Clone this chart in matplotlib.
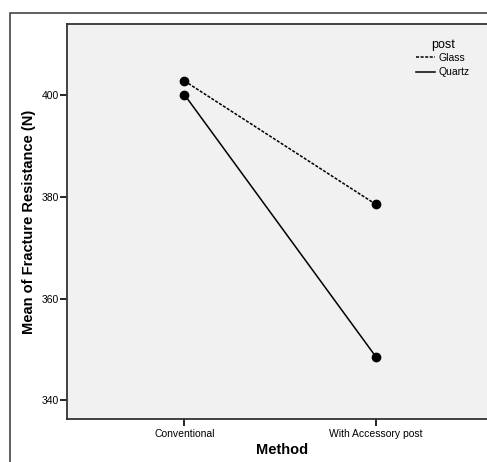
import matplotlib
matplotlib.use('Agg')
import matplotlib.pyplot as plt
from matplotlib.patches import Rectangle
from matplotlib.lines import Line2D

plt.rcParams['font.family'] = ['Liberation Sans', 'DejaVu Sans']

methods = ['Conventional', 'With Accessory post']
glass = [402.8, 378.5]
quartz = [400.1, 348.5]
yticks = [340, 360, 380, 400]

W, H = 487, 462
fig = plt.figure(figsize=(W / 100, H / 100), dpi=100)

# outer frame (cut off at right and bottom like the original)
fig.patches.append(Rectangle((10 / W, -0.1), 1.2, 1 - 13 / H + 0.1,
                             transform=fig.transFigure, fill=False,
                             edgecolor='#444444', linewidth=1.2))

ax = fig.add_axes([67 / W, 1 - 419 / H, (W - 67) / W + 0.02, (419 - 24) / H])
ax.set_facecolor('#f1f1f1')

x = list(range(len(methods)))
ax.plot(x, glass, color='black', linestyle=(0, (2, 1)), linewidth=1.1,
        marker='o', markersize=6)
ax.plot(x, quartz, color='black', linestyle='-', linewidth=1.1,
        marker='o', markersize=6)

ax.set_xlim(-0.613, 1.63)
ax.set_ylim(336.3, 414.0)
ax.set_xticks(x)
ax.set_xticklabels(methods, fontsize=7.5)
ax.set_yticks(yticks)
ax.tick_params(axis='y', labelsize=7.5, length=5, width=1.2, pad=1)
ax.tick_params(axis='x', length=5, width=1.2, pad=2)
for s in ['top', 'left', 'bottom']:
    ax.spines[s].set_color('#333333')
    ax.spines[s].set_linewidth(1.3)
ax.spines['right'].set_visible(False)

ax.set_xlabel('Method', fontsize=10.5, fontweight='bold', labelpad=3)
ax.set_ylabel('Mean of Fracture Resistance (N)', fontsize=10.5,
              fontweight='bold', labelpad=4)

handles = [Line2D([], [], color='black', linestyle=(0, (2, 1)), linewidth=1.1),
           Line2D([], [], color='black', linestyle='-', linewidth=1.1)]
leg = fig.legend(handles, ['Glass', 'Quartz'], title='post',
                 loc='upper left', bbox_to_anchor=(416 / W, 1 - 36 / H),
                 frameon=False, fontsize=7.5, title_fontsize=9,
                 handlelength=1.8, handletextpad=0.4, labelspacing=0.45,
                 borderpad=0, borderaxespad=0)
leg._legend_title_box._text.set_va('baseline')
leg.get_title().set_position((0, -3))

fig.savefig('out.png', dpi=100)
